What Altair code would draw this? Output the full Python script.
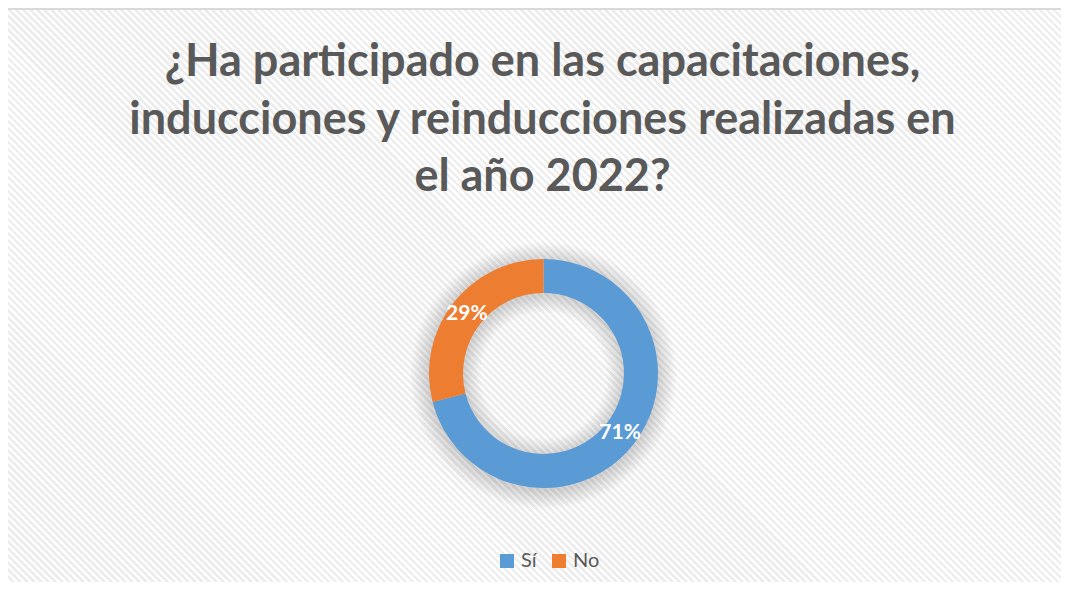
import altair as alt
import pandas as pd

# ---- data ----
categories = ["Sí", "No"]
values = [71, 29]
labels = ["71%", "29%"]
colors = ["#5b9bd5", "#ed7d31"]
title_lines = [
    "¿Ha participado en las capacitaciones,",
    "inducciones y reinducciones realizadas en",
    "el año 2022?",
]

df = pd.DataFrame({"cat": categories, "value": values, "label": labels,
                   "idx": list(range(len(categories)))})
one = pd.DataFrame({"k": [0]})

W, H = 1053, 574
CX, CY = 535.5, 365.5
FONT = "Lato"
TXT = "#595959"

# ---- hatched background (diagonal stripes) as a linear gradient ----
r = H / W
k = (1 + r) / (1 + r * r)
N = int(round((W + H) / 7.0))
stops = []
for i in range(N):
    a = i / N
    m = (i + 0.5) / N
    b = (i + 1) / N
    stops += [
        {"offset": a, "color": "#ffffff"},
        {"offset": m, "color": "#ffffff"},
        {"offset": m, "color": "#ededed"},
        {"offset": b, "color": "#ededed"},
    ]
bg_grad = {"gradient": "linear", "x1": 0, "y1": 1, "x2": k, "y2": 1 - k * r,
           "stops": stops}

bg = alt.Chart(one).mark_rect(fill=bg_grad).encode(
    x=alt.value(0), x2=alt.value(W), y=alt.value(0), y2=alt.value(H)
)

border_top = alt.Chart(one).mark_rule(color="#d9d9d9", strokeWidth=2).encode(
    x=alt.value(0), x2=alt.value(W), y=alt.value(1)
)
border_left = alt.Chart(one).mark_rule(color="#d9d9d9", strokeWidth=2).encode(
    x=alt.value(-1), y=alt.value(0), y2=alt.value(H)
)

# ---- soft shadow around the ring ----
R_SH = 134.0
shadow_grad = {
    "gradient": "radial", "x1": 0.5, "y1": 0.5, "r1": 0,
    "x2": 0.5, "y2": 0.5, "r2": 0.5,
    "stops": [
        {"offset": 0.0, "color": "rgba(0,0,0,0)"},
        {"offset": 62 / R_SH, "color": "rgba(0,0,0,0)"},
        {"offset": 80 / R_SH, "color": "rgba(0,0,0,0.16)"},
        {"offset": 115 / R_SH, "color": "rgba(0,0,0,0.16)"},
        {"offset": 1.0, "color": "rgba(0,0,0,0)"},
    ],
}
shadow = alt.Chart(one).mark_arc(
    theta=0, theta2=6.2832, innerRadius=62, outerRadius=R_SH, fill=shadow_grad
).encode(x=alt.value(CX), y=alt.value(CY + 2))

# ---- donut ----
base = alt.Chart(df).encode(
    theta=alt.Theta("value:Q", stack=True),
    order=alt.Order("idx:Q"),
    x=alt.value(CX),
    y=alt.value(CY),
)

donut = base.mark_arc(innerRadius=80.5, outerRadius=114.5).encode(
    color=alt.Color(
        "cat:N",
        scale=alt.Scale(domain=categories, range=colors),
        sort=categories,
        legend=alt.Legend(
            title=None, orient="none", direction="horizontal",
            legendX=489, legendY=543, symbolType="square", symbolSize=196,
            symbolStrokeWidth=0, labelFont=FONT, labelFontSize=20,
            labelColor=TXT, labelOffset=4, columnPadding=12, padding=0,
        ),
    )
)

pct = base.mark_text(radius=97, font=FONT, fontSize=21, fontWeight="bold",
                     color="white").encode(text="label:N")

# ---- title ----
title_layers = []
for i, line in enumerate(title_lines):
    title_layers.append(
        alt.Chart(one).mark_text(
            text=line, font=FONT, fontSize=45, fontWeight="bold", color=TXT,
            align="center", baseline="alphabetic",
        ).encode(x=alt.value(534.5), y=alt.value(68 + i * 57.5))
    )

chart = alt.layer(bg, border_top, border_left, shadow, donut, pct, *title_layers).properties(
    width=W, height=H, padding=0, autosize=alt.AutoSizeParams(type="none"),
    background="white",
).configure_view(stroke=None)

chart.save("out.html", embed_options={"renderer": "svg", "actions": False})
